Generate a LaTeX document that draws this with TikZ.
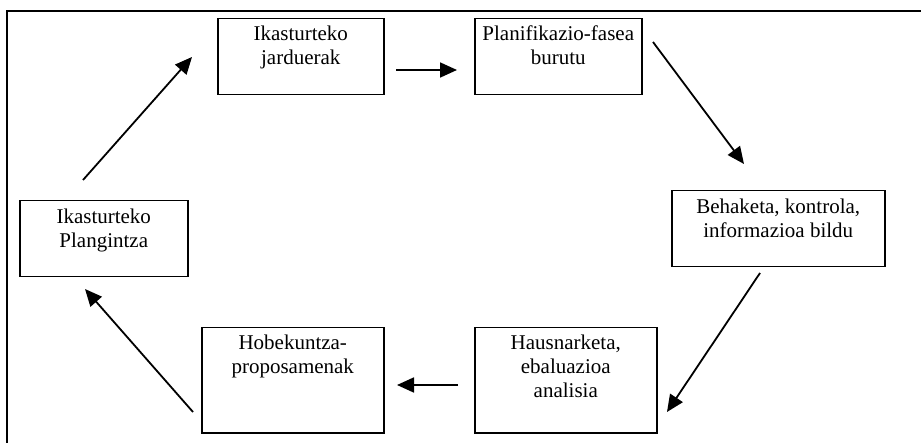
\documentclass[tikz,border=0pt]{standalone}
\usepackage{fontspec}
\setmainfont{Liberation Serif}
\usetikzlibrary{arrows.meta}
\begin{document}
\begin{tikzpicture}[x=1pt,y=-1pt,
  stage/.style={draw, line width=1.5pt, inner sep=0pt, anchor=north west},
  caption/.style={anchor=north, align=center, inner sep=0pt,
    font=\fontsize{21}{24}\selectfont},
  flow/.style={line width=1.8pt, -{Triangle[length=17pt,width=15pt]}}]
\clip (0,0) rectangle (921,443);
\useasboundingbox (0,0) rectangle (921,443);

% outer frame (only top and left edges fall inside the page)
\draw[line width=2pt] (6.5,470) -- (6.5,11.5) -- (950,11.5);

% stage boxes
\node[stage, minimum width=166pt, minimum height=76pt]  (b1) at (217,18)  {};
\node[stage, minimum width=167pt, minimum height=76pt]  (b2) at (474,18)  {};
\node[stage, minimum width=213pt, minimum height=76pt]  (b3) at (671,190) {};
\node[stage, minimum width=182pt, minimum height=105pt] (b4) at (474,327) {};
\node[stage, minimum width=182pt, minimum height=105pt] (b5) at (201,327) {};
\node[stage, minimum width=168pt, minimum height=76pt]  (b6) at (19,200)  {};

% box captions, set at the top of each box
\node[caption] (t1) at ([yshift=-8pt]b1.north) {Ikasturteko\\jarduerak};
\node[caption] (t2) at ([yshift=-8pt]b2.north) {Planifikazio-fasea\\burutu};
\node[caption] (t3) at ([yshift=-9pt]b3.north) {Behaketa, kontrola,\\informazioa bildu};
\node[caption] (t4) at ([yshift=-8pt]b4.north) {Hausnarketa,\\ebaluazioa\\analisia};
\node[caption] (t5) at ([yshift=-8pt]b5.north) {Hobekuntza-\\proposamenak};
\node[caption] (t6) at ([yshift=-9pt]b6.north) {Ikasturteko\\Plangintza};

% connector end points
\coordinate (a1s) at (83,180);  \coordinate (a1e) at (192,57);
\coordinate (a2s) at (396,70);  \coordinate (a2e) at (457,70);
\coordinate (a3s) at (653,42);  \coordinate (a3e) at (744,164);
\coordinate (a4s) at (760,273); \coordinate (a4e) at (667,412);
\coordinate (a5s) at (458,385); \coordinate (a5e) at (397,385);
\coordinate (a6s) at (193,412); \coordinate (a6e) at (85,289);

% cycle arrows
\draw[flow] (a1s) -- (a1e);
\draw[flow] (a2s) -- (a2e);
\draw[flow] (a3s) -- (a3e);
\draw[flow] (a4s) -- (a4e);
\draw[flow] (a5s) -- (a5e);
\draw[flow] (a6s) -- (a6e);
\end{tikzpicture}
\end{document}
